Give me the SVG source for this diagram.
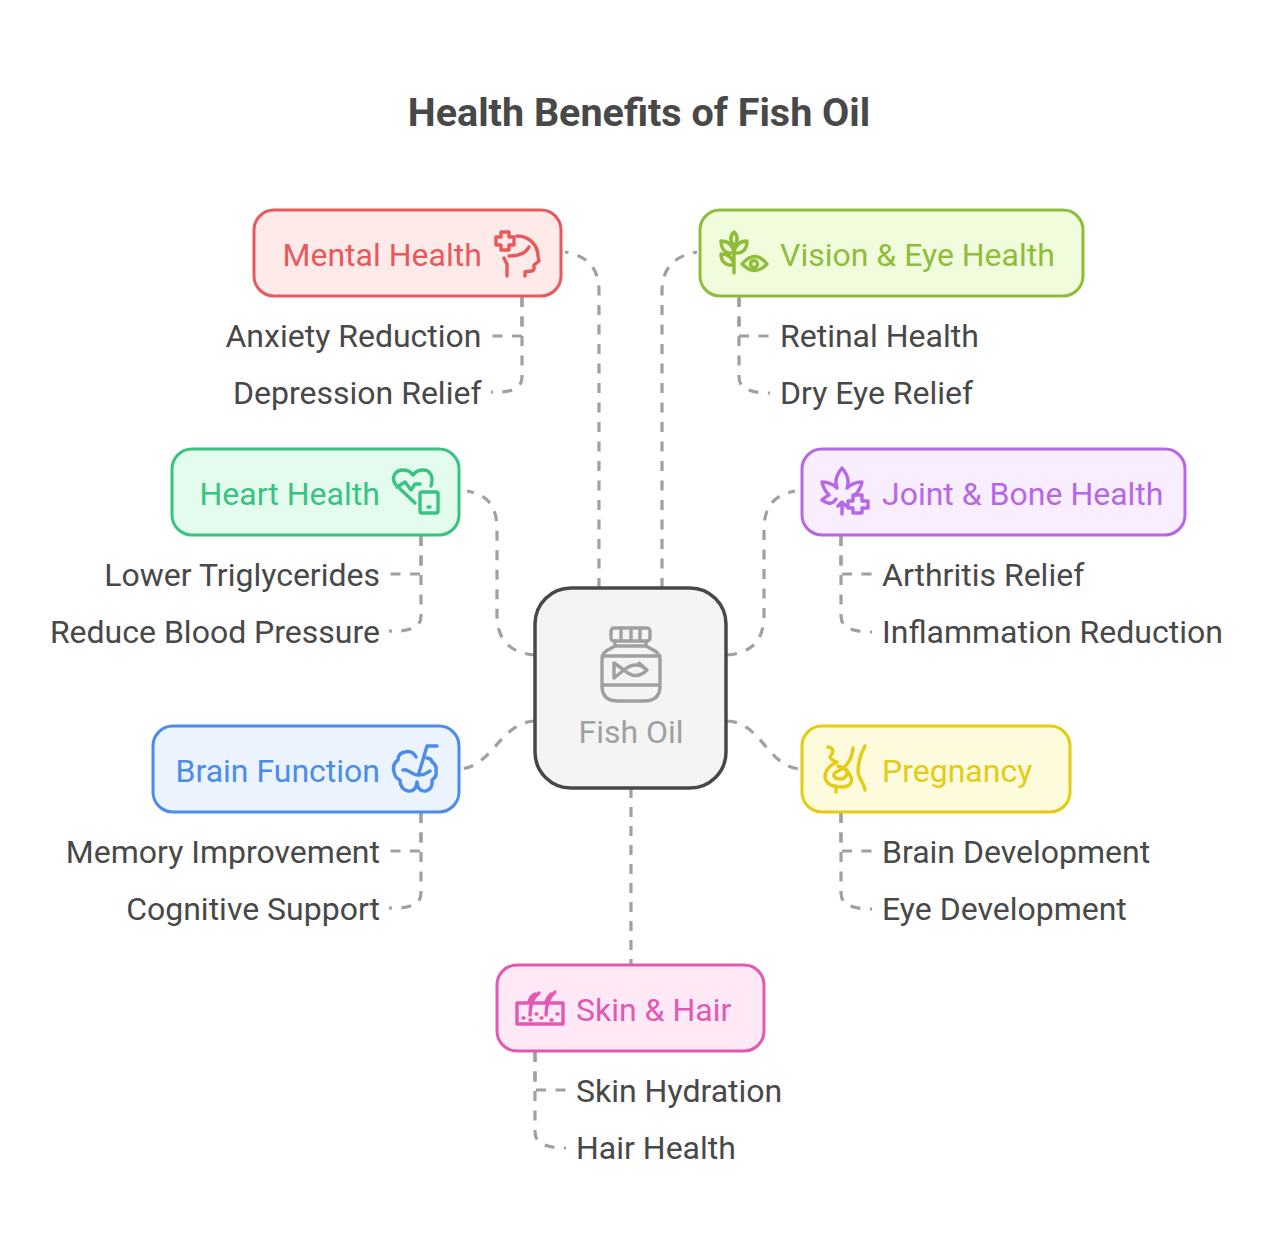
<svg xmlns="http://www.w3.org/2000/svg" width="1280" height="1242" viewBox="0 0 1280 1242">
<style>
text{font-family:Roboto,"Liberation Sans",sans-serif;font-size:32px}
.t{fill:#484848}
.e{text-anchor:end}
.b{stroke-width:3;rx:20px}
.i{fill:none;stroke-width:3.4;stroke-linecap:round;stroke-linejoin:round}
#connectors path{fill:none;stroke:#a0a0a0;stroke-width:3.2;stroke-dasharray:10 9.5}
</style>
<rect width="1280" height="1242" fill="#fff"/>
<text id="title" x="639" y="126" text-anchor="middle" style="font-size:39.5px;font-weight:700" fill="#484848">Health Benefits of Fish Oil</text>
<g id="connectors">
<path d="M599 588V292C599 268 588 256 565 252"/>
<path d="M662 588V292C662 268 674 256 697 252"/>
<path d="M535 655C510 653 497 640 497 615V530C497 506 488 495 467 491"/>
<path d="M727 655C752 653 764 640 764 615V530C764 506 774 495 795 491"/>
<path d="M535 721C500 722 492 769 458 769"/>
<path d="M727 721C762 722 768 769 802 769"/>
<path d="M631 788V965" style="stroke-dasharray:10 9"/>
<path d="M522 297V336H492"/>
<path d="M522 297V377C522 388 512 393 491 392"/>
<path d="M739 297V336H770"/>
<path d="M739 297V377C739 388 749 393 770 393"/>
<path d="M421 536V574H390"/>
<path d="M421 536V616C421 627 411 632 389 631"/>
<path d="M841 536V574H872"/>
<path d="M841 536V616C841 627 851 632 872 632"/>
<path d="M421 813V851H390"/>
<path d="M421 813V893C421 904 411 909 389 908"/>
<path d="M841 813V851H872"/>
<path d="M841 813V893C841 904 851 909 872 909"/>
<path d="M535 1052V1090H566"/>
<path d="M535 1052V1132C535 1143 545 1148 566 1148"/>
</g>
<g id="center">
<rect x="535" y="588" width="191" height="200" rx="36" fill="#f4f4f4" stroke="#484848" stroke-width="3.5"/>
<g class="i" stroke="#a0a0a0">
<rect x="611" y="628" width="39" height="13" rx="3"/>
<path d="M621 628V641M631 628V641M640 628V641M615 641V646L606 651Q602 654 602 660V686Q602 701 618 701H644Q660 701 660 686V660Q660 654 655 651L646 646V641M602 656H660M602 685H660M615 646H646"/>
<path d="M614 663V678L624 670ZM624 670Q636 660 647 670 Q636 681 624 670M647 670L639 663"/>
</g>
<text x="631" y="743" text-anchor="middle" fill="#a0a0a0">Fish Oil</text>
</g>
<g id="mental">
<rect class="b" x="254" y="210" width="307" height="86" fill="#ffeaea" stroke="#e9585a"/>
<text x="282.500" y="266" fill="#e9585a">Mental Health</text>
<path class="i" stroke="#e9585a" d="M501 232H509V237H514V245H509V250H501V245H496V237H501ZM517 236C530 236 538 246 538 256L539 261 534 265V269C533 273 528 270 525 272V276M509 256C520 256 526 253 529 247M504 258L507 264V276"/>
</g>
<g id="vision">
<rect class="b" x="700" y="210" width="383" height="86" fill="#f0fcdc" stroke="#8fbd3a"/>
<text x="780" y="266" fill="#8fbd3a">Vision &amp; Eye Health</text>
<g class="i" stroke="#8fbd3a">
<path d="M734 273V246M734 246C730 241 730 236 734 232 738 236 738 241 734 246ZM734 253C725 254 721 249 721 241 729 241 733 246 734 253ZM734 253C743 254 747 249 747 241 739 241 735 246 734 253ZM734 265C725 266 721 261 721 254 729 254 733 258 734 265Z"/>
<path d="M742 264Q755 249 767 264 755 277 742 264Z"/>
<circle cx="754" cy="264" r="3.500"/>
</g>
</g>
<g id="heart">
<rect class="b" x="172" y="449" width="287" height="86" fill="#e3fcee" stroke="#39c381"/>
<text x="199.500" y="505" fill="#39c381">Heart Health</text>
<g class="i" stroke="#39c381">
<path d="M415 503L396 485C390 477 396 470 403 470 407 470 411 472 413 475 415 472 419 470 423 470 430 470 434 476 431 486M397 487L405 482 411 490 415 484H420"/>
<rect x="420" y="492" width="18" height="21" rx="2"/>
<path d="M428 507H430"/>
</g>
</g>
<g id="joint">
<rect class="b" x="802" y="449" width="383" height="86" fill="#f8eeff" stroke="#b767e6"/>
<text x="882" y="505" fill="#b767e6">Joint &amp; Bone Health</text>
<g class="i" stroke="#b767e6">
<path d="M842 514V502M838 506L842 502 846 506M836 499C832 506 827 503 822 500 825 497 827 496 829 495 825 491 823 487 822 482 828 482 833 484 837 488 834 480 837 474 842 468 847 474 850 480 847 488 851 484 856 482 862 482 861 487 859 491 855 495"/>
<path d="M853 495H862V501H868V508H862V513H853V508H848V501H853Z"/>
</g>
</g>
<g id="brain">
<rect class="b" x="153" y="726" width="306" height="86" fill="#eaf3ff" stroke="#4b8cea"/>
<text x="175.500" y="782" fill="#4b8cea">Brain Function</text>
<path class="i" stroke="#4b8cea" d="M437 746H427L419 773M416 757Q412 750 405 752 398 753 398 760 392 764 394 772 395 778 400 780 400 789 408 791 416 792 417 782 418 792 426 791 433 789 432 780 437 777 436 771 437 765 432 762 432 759 427 758M403 770C408 768 411 775 418 775 424 776 426 773 430 771"/>
</g>
<g id="pregnancy">
<rect class="b" x="802" y="726" width="268" height="86" fill="#fdfbdc" stroke="#e4cb14"/>
<text x="882" y="782" fill="#e4cb14">Pregnancy</text>
<path class="i" stroke="#e4cb14" d="M828 747C834 748 834 752 830 757 831 760 834 761 837 762 828 766 825 772 825 777 826 784 833 787 842 787 850 787 853 782 851 777 848 770 842 767 838 766M853 748C852 760 846 768 836 772 832 775 834 779 840 779 845 779 848 775 847 770M865 746C861 753 858 762 858 772 859 780 864 783 865 790M836 786V792"/>
</g>
<g id="skin">
<rect class="b" x="497" y="965" width="267" height="86" fill="#ffe9f7" stroke="#e258b3"/>
<text x="576" y="1021" fill="#e258b3">Skin &amp; Hair</text>
<g class="i" stroke="#e258b3">
<path d="M517 1003V1024H563V1003Z"/>
<path d="M530 1015C530 1004 533 997 539 993M546 1015C546 1004 549 997 555 992M529 1002C530 998 533 995 535 994M546 1002C547 998 549 996 551 994"/>
<path d="M523 1018H524M530 1020H531M536 1014H537M541 1018H542M551 1020H552M557 1014H558"/>
</g>
</g>
<g id="labels">
<text class="t e" x="481.500" y="347">Anxiety Reduction</text>
<text class="t e" x="481.500" y="404">Depression Relief</text>
<text class="t" x="780" y="347">Retinal Health</text>
<text class="t" x="780" y="404">Dry Eye Relief</text>
<text class="t e" x="380" y="586">Lower Triglycerides</text>
<text class="t e" x="380" y="643">Reduce Blood Pressure</text>
<text class="t" x="882" y="586">Arthritis Relief</text>
<text class="t" x="882" y="643">Inflammation Reduction</text>
<text class="t e" x="380" y="863">Memory Improvement</text>
<text class="t e" x="380" y="920">Cognitive Support</text>
<text class="t" x="882" y="863">Brain Development</text>
<text class="t" x="882" y="920">Eye Development</text>
<text class="t" x="576" y="1102">Skin Hydration</text>
<text class="t" x="576" y="1159">Hair Health</text>
</g>
</svg>
